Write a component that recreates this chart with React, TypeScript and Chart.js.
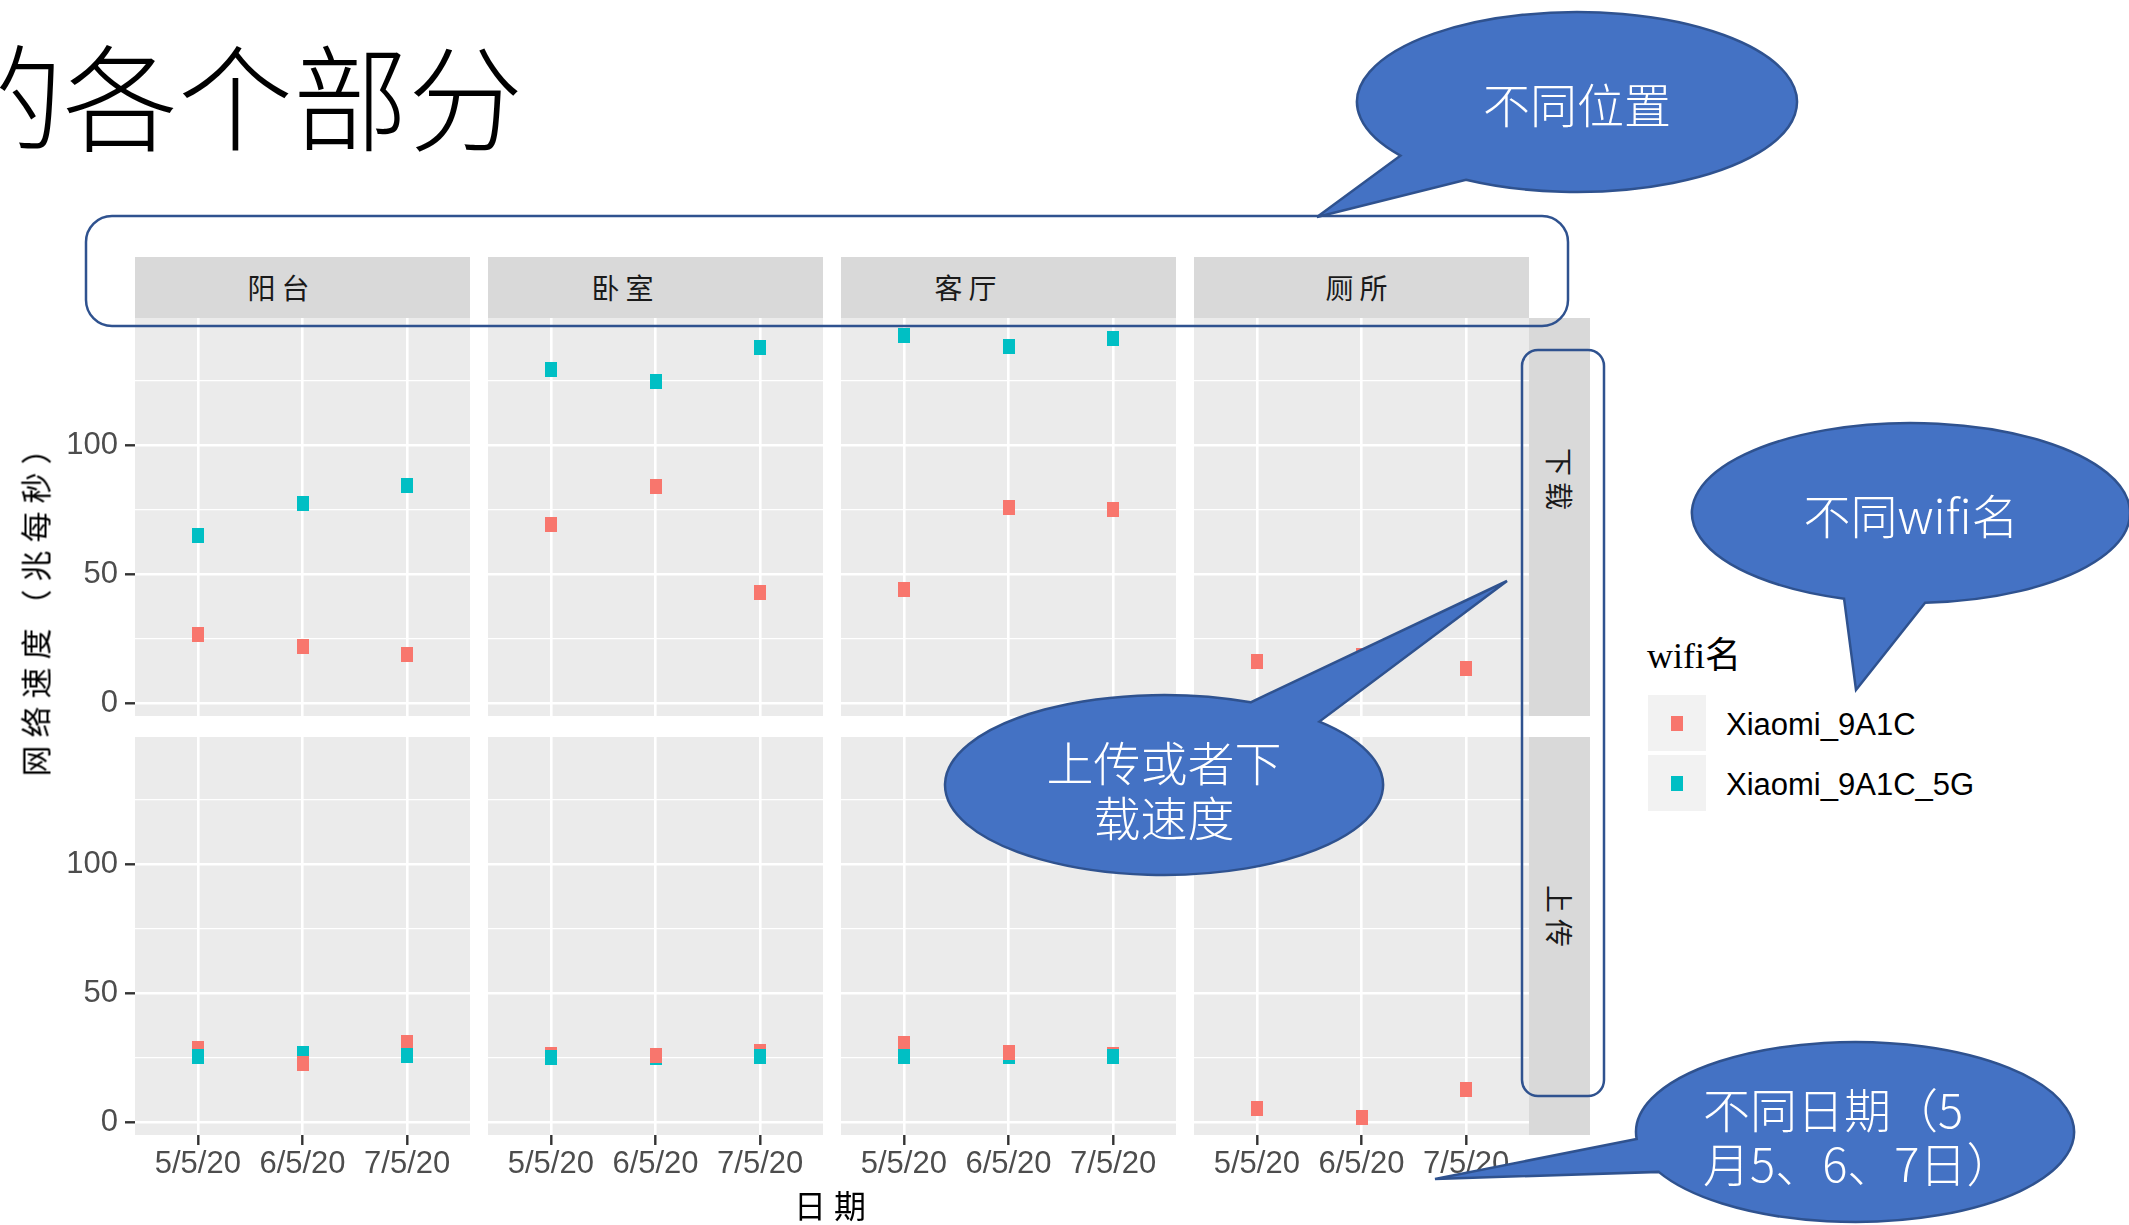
import React, { useEffect, useRef } from 'react';
import { Chart, registerables } from 'chart.js';

Chart.register(...registerables);

// ---------------- data ----------------
const locations = ['阳台', '卧室', '客厅', '厕所'];
const directions = ['下载', '上传'];
const dates = ['5/5/20', '6/5/20', '7/5/20'];
const wifiNames = ['Xiaomi_9A1C', 'Xiaomi_9A1C_5G'];
const wifiColors = ['#F8766D', '#00BFC4'];
const yGridTicks = [0, 25, 50, 75, 100, 125];

// per location: values at the three dates (null = no measurement)
const download9A1C = [[26.7, 22.0, 18.9], [69.2, 84.0, 43.0], [44.0, 75.8, 75.1], [16.1, 18.5, 13.4]];
const download5G = [[65.1, 77.3, 84.4], [129.3, 124.4, 137.5], [142.4, 138.0, 141.3], [null, null, null]];
const upload9A1C = [[28.5, 23.0, 31.1], [26.4, 26.1, 27.3], [30.7, 27.0, 26.2], [5.5, 2.1, 12.7]];
const upload5G = [[25.5, 26.6, 25.9], [25.3, 25.1, 25.5], [25.4, 25.4, 25.5], [null, null, null]];
// which wifi ends up on top where the points overlap, per date
const topWifiByDate = [1, 0, 1];

const seriesByDirection = [[download9A1C, download5G], [upload9A1C, upload5G]];

// ---------------- layout ----------------
const W = 2129;
const H = 1225;
const COL_LEFT = [135, 488, 841, 1194];
const PANEL_W = 335;
const ROW_TOP = [318, 737];
const PANEL_H = 398;
const Y_AXIS_W = 135;
const X_AXIS_H = 80;
const Y_MIN = -4.8;
const Y_MAX = 149.1;
const CJK = "'Noto Sans CJK SC', 'Noto Sans', sans-serif";

let pointImgs: HTMLCanvasElement[] | null = null;
function getPointImgs() {
  if (!pointImgs) {
    pointImgs = wifiColors.map((c) => {
      const cv = document.createElement('canvas');
      cv.width = 12;
      cv.height = 15;
      const g = cv.getContext('2d')!;
      g.fillStyle = c;
      g.fillRect(0, 0, 12, 15);
      return cv;
    });
  }
  return pointImgs;
}

const panelBg = {
  id: 'panelBg',
  beforeDraw(chart: any) {
    const { ctx, chartArea: a } = chart;
    ctx.save();
    ctx.fillStyle = '#EBEBEB';
    ctx.fillRect(a.left, a.top, a.right - a.left, a.bottom - a.top);
    ctx.restore();
  },
};

function Panel({ col, row }: { col: number; row: number }) {
  const ref = useRef<HTMLCanvasElement>(null);
  const showY = col === 0;
  const showX = row === 1;
  const left = COL_LEFT[col] - (showY ? Y_AXIS_W : 0);
  const width = PANEL_W + (showY ? Y_AXIS_W : 0);
  const height = PANEL_H + (showX ? X_AXIS_H : 0);

  useEffect(() => {
    const imgs = getPointImgs();
    const series = seriesByDirection[row];
    const points: any[] = [];
    dates.forEach((_, d) => {
      const order = topWifiByDate[d] === 1 ? [0, 1] : [1, 0];
      order.forEach((w) => {
        const v = series[w][col][d];
        if (v !== null && v !== undefined) points.push({ x: d + 1, y: v, w });
      });
    });
    const tickFont = { family: "'Liberation Sans', Arial, sans-serif", size: 31 };
    const chart = new Chart(ref.current!, {
      type: 'scatter',
      data: {
        datasets: [
          {
            data: points,
            pointStyle: (c: any) => imgs[c.raw ? c.raw.w : 0],
            pointRadius: 8,
            pointHoverRadius: 8,
            showLine: false,
          } as any,
        ],
      },
      options: {
        animation: false,
        responsive: false,
        events: [],
        layout: { padding: 0, autoPadding: false } as any,
        plugins: { legend: { display: false }, tooltip: { enabled: false } },
        scales: {
          x: {
            type: 'linear',
            min: 0.4,
            max: 3.6,
            afterBuildTicks: (s: any) => {
              s.ticks = [1, 2, 3].map((v) => ({ value: v }));
            },
            afterFit: (s: any) => {
              s.height = showX ? X_AXIS_H : 0;
              s.paddingLeft = 0;
              s.paddingRight = 0;
              s.paddingTop = 0;
              s.paddingBottom = 0;
            },
            border: { display: false },
            grid: {
              color: '#FFFFFF',
              lineWidth: 2.6,
              drawTicks: showX,
              tickLength: 10,
              tickColor: '#333333',
              tickWidth: 2.4,
            } as any,
            ticks: {
              display: showX,
              autoSkip: false,
              maxRotation: 0,
              padding: 1,
              color: '#4D4D4D',
              font: tickFont,
              callback: (v: any) => dates[Math.round(Number(v)) - 1] ?? '',
            },
          },
          y: {
            type: 'linear',
            min: Y_MIN,
            max: Y_MAX,
            afterBuildTicks: (s: any) => {
              s.ticks = yGridTicks.map((v) => ({ value: v }));
            },
            afterFit: (s: any) => {
              s.width = showY ? Y_AXIS_W : 0;
              s.paddingLeft = 0;
              s.paddingRight = 0;
              s.paddingTop = 0;
              s.paddingBottom = 0;
            },
            border: { display: false },
            grid: {
              color: '#FFFFFF',
              lineWidth: (c: any) => (c.tick && c.tick.value % 50 === 0 ? 2.6 : 1.3),
              drawTicks: showY,
              tickLength: 10,
              tickColor: (c: any) => (c.tick && c.tick.value % 50 === 0 ? '#333333' : 'rgba(0,0,0,0)'),
              tickWidth: 2.4,
            } as any,
            ticks: {
              display: showY,
              padding: 7,
              color: '#4D4D4D',
              font: tickFont,
              callback: (v: any) => (Number(v) % 50 === 0 ? String(v) : ''),
            },
          },
        },
      } as any,
      plugins: [panelBg],
    });
    return () => chart.destroy();
  }, [col, row]);

  return (
    <canvas
      ref={ref}
      width={width}
      height={height}
      style={{ position: 'absolute', left, top: ROW_TOP[row], width, height }}
    />
  );
}

function calloutPath(cx: number, cy: number, rx: number, ry: number, a1: number, a2: number, tx: number, ty: number) {
  const p = (a: number) => [cx + rx * Math.cos((a * Math.PI) / 180), cy + ry * Math.sin((a * Math.PI) / 180)];
  const [x1, y1] = p(a1);
  const [x2, y2] = p(a2);
  return `M ${x1} ${y1} A ${rx} ${ry} 0 1 1 ${x2} ${y2} L ${tx} ${ty} Z`;
}

function Txt(props: {
  x: number;
  y: number;
  children: React.ReactNode;
  size: number;
  color?: string;
  family?: string;
  weight?: number;
  spacing?: number;
  rotate?: number;
  anchor?: 'center' | 'left';
}) {
  const { x, y, children, size, color = '#000', family = CJK, weight = 400, spacing = 0, rotate = 0, anchor = 'center' } = props;
  const tx = anchor === 'center' ? '-50%' : '0';
  return (
    <div
      style={{
        position: 'absolute',
        left: x,
        top: y,
        transform: `translate(${tx}, -50%) rotate(${rotate}deg)`,
        fontFamily: family,
        fontSize: size,
        fontWeight: weight,
        color,
        letterSpacing: spacing,
        lineHeight: 1,
        whiteSpace: 'nowrap',
      }}
    >
      {children}
    </div>
  );
}

const stripOffsets = [-21, -30, -40, -2];
const rightStripY = [482, 919];

export default function App() {
  const stripCol = '#D9D9D9';
  const calloutFill = '#4472C4';
  const calloutStroke = '#2F528F';
  const callouts = [
    { cx: 1577, cy: 102, rx: 220, ry: 90, a1: 143.4, a2: 120.3, tx: 1317, ty: 217 },
    { cx: 1911, cy: 513, rx: 219, ry: 90, a1: 107.8, a2: 86.3, tx: 1856, ty: 690 },
    { cx: 1164, cy: 785, rx: 219, ry: 90, a1: -44.8, a2: -66.7, tx: 1507, ty: 581 },
    { cx: 1855, cy: 1132, rx: 219, ry: 90, a1: 175.5, a2: 153.7, tx: 1435, ty: 1179 },
  ];
  return (
    <div
      style={{
        position: 'fixed',
        left: 0,
        top: 0,
        width: W,
        height: H,
        overflow: 'hidden',
        background: '#FFFFFF',
      }}
    >
      {/* slide title (clipped at left) */}
      <Txt x={-52} y={92} size={115} weight={300} anchor="left">
        的各个部分
      </Txt>

      {/* top strips */}
      {locations.map((loc, c) => (
        <div
          key={'s' + c}
          style={{ position: 'absolute', left: COL_LEFT[c], top: 257, width: PANEL_W, height: 61, background: stripCol }}
        />
      ))}
      {locations.map((loc, c) => (
        <Txt key={'st' + c} x={COL_LEFT[c] + PANEL_W / 2 + stripOffsets[c]} y={287} size={28} color="#1A1A1A" spacing={6}>
          {loc}
        </Txt>
      ))}

      {/* right strips */}
      {directions.map((d, r) => (
        <div
          key={'r' + r}
          style={{ position: 'absolute', left: 1529, top: ROW_TOP[r], width: 61, height: PANEL_H, background: stripCol }}
        />
      ))}
      {directions.map((d, r) => (
        <Txt key={'rt' + r} x={1560} y={rightStripY[r]} size={28} color="#1A1A1A" spacing={6} rotate={90}>
          {d}
        </Txt>
      ))}

      {/* panels */}
      {directions.map((_, r) =>
        locations.map((__, c) => <Panel key={`p${r}-${c}`} col={c} row={r} />)
      )}

      {/* axis titles */}
      <Txt x={34} y={601} size={31} spacing={8} rotate={-90}>
        网络速度（兆每秒）
      </Txt>
      <Txt x={834} y={1204} size={32} spacing={8}>
        日期
      </Txt>

      {/* legend */}
      <Txt x={1647} y={656} size={36} family={"'Liberation Serif', 'Noto Sans CJK SC', serif"} anchor="left">
        wifi名
      </Txt>
      {wifiNames.map((name, i) => (
        <React.Fragment key={'lg' + i}>
          <div
            style={{ position: 'absolute', left: 1648, top: 695 + i * 60, width: 58, height: 56, background: '#F2F2F2' }}
          />
          <div
            style={{
              position: 'absolute',
              left: 1648 + 29 - 6,
              top: 695 + i * 60 + 28 - 7.5,
              width: 12,
              height: 15,
              background: wifiColors[i],
            }}
          />
          <Txt x={1726} y={724 + i * 60} size={31} family={"'Liberation Sans', Arial, sans-serif"} anchor="left">
            {name}
          </Txt>
        </React.Fragment>
      ))}

      {/* annotation overlay */}
      <svg
        width={W}
        height={H}
        style={{ position: 'absolute', left: 0, top: 0, pointerEvents: 'none' }}
      >
        <rect x={86} y={216} width={1482} height={110} rx={26} ry={26} fill="none" stroke={calloutStroke} strokeWidth={2.5} />
        <rect x={1522} y={350} width={82} height={746} rx={16} ry={16} fill="none" stroke={calloutStroke} strokeWidth={2.5} />
        {callouts.map((c, i) => (
          <path
            key={'c' + i}
            d={calloutPath(c.cx, c.cy, c.rx, c.ry, c.a1, c.a2, c.tx, c.ty)}
            fill={calloutFill}
            stroke={calloutStroke}
            strokeWidth={2.5}
            strokeLinejoin="miter"
          />
        ))}
      </svg>

      {/* callout texts */}
      <div style={{ position: 'absolute', left: 0, top: 0, width: W, height: H, pointerEvents: 'none' }}>
        <Txt x={1577} y={102} size={47} color="#FFFFFF" weight={300}>
          不同位置
        </Txt>
        <Txt x={1911} y={513} size={47} color="#FFFFFF" weight={300}>
          不同wifi名
        </Txt>
        <Txt x={1164} y={760} size={47} color="#FFFFFF" weight={300}>
          上传或者下
        </Txt>
        <Txt x={1164} y={815} size={47} color="#FFFFFF" weight={300}>
          载速度
        </Txt>
        <Txt x={1703} y={1107} size={47} color="#FFFFFF" weight={300} anchor="left">
          不同日期（5
        </Txt>
        <Txt x={1703} y={1161} size={47} color="#FFFFFF" weight={300} anchor="left">
          月5、6、7日）
        </Txt>
      </div>
    </div>
  );
}
